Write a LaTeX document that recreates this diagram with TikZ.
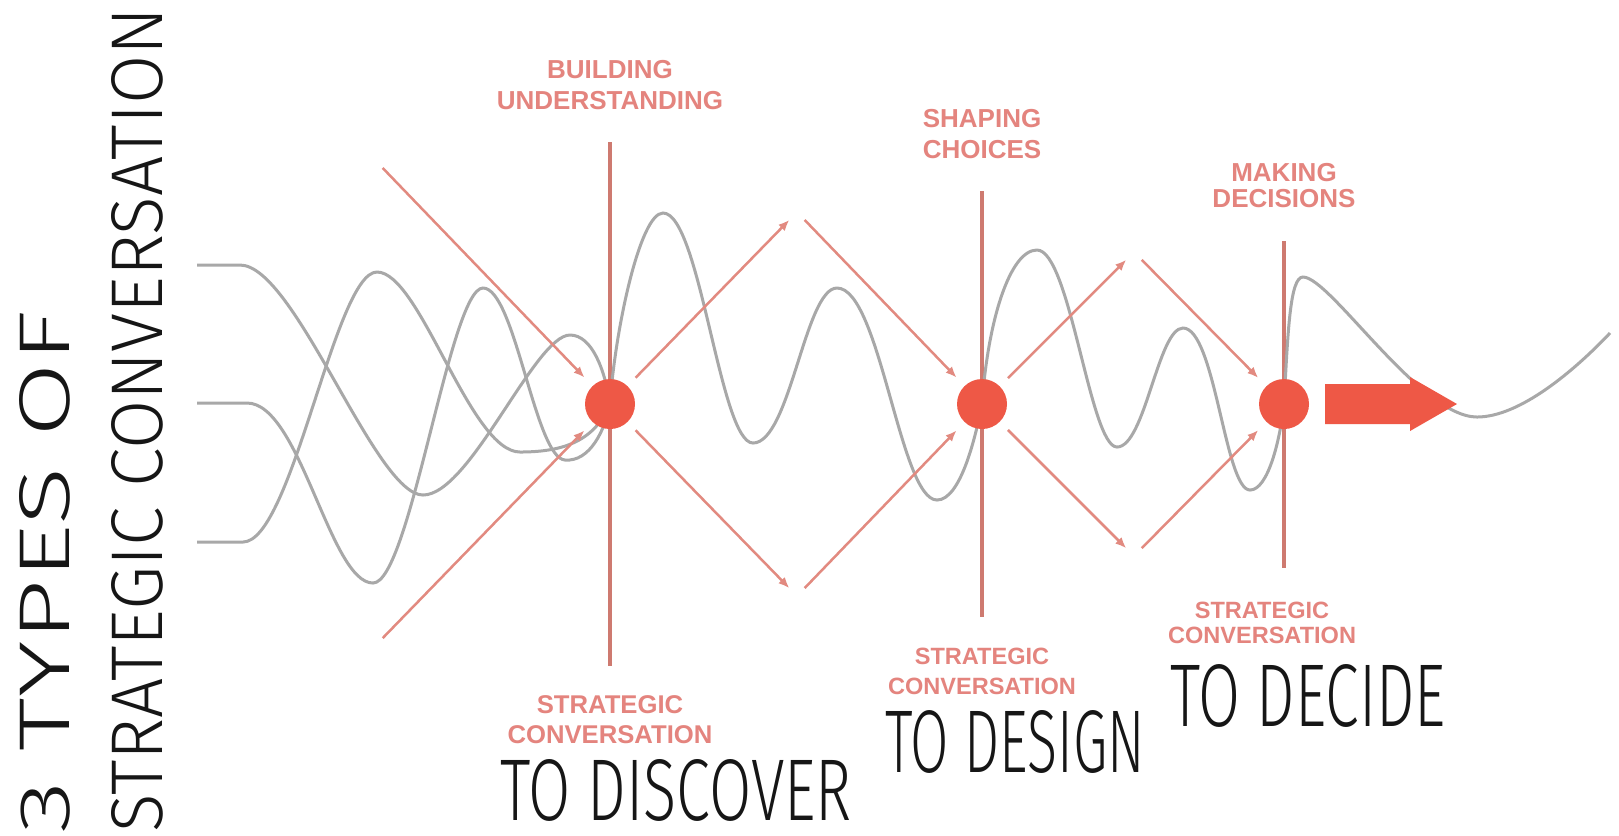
\documentclass[tikz,border=0pt]{standalone}
\usepackage{fontspec}
\usetikzlibrary{arrows.meta,positioning}
\newfontfamily\tagfont{Liberation Sans}
\IfFontExistsTF{Fira Sans Light}
  {\newfontfamily\thinfont{Fira Sans Light}}
  {\newfontfamily\thinfont{Fira Sans}}
\definecolor{wavegrey}{RGB}{168,168,168}
\definecolor{dotred}{RGB}{238,88,70}
\definecolor{axisred}{RGB}{206,122,112}
\definecolor{flowred}{RGB}{226,138,128}
\definecolor{tagred}{RGB}{228,132,126}
\definecolor{ink}{RGB}{22,22,22}

\begin{document}
\begin{tikzpicture}[x=0.1mm,y=-0.1mm,
wave/.style={draw=wavegrey,line width=0.3mm},
axis/.style={draw=axisred,line width=0.45mm},
flow/.style={draw=flowred,line width=0.25mm,-{Latex[length=1.1mm,width=0.9mm]},
	shorten >=1.1mm,shorten <=1.1mm},
dot/.style={circle,fill=dotred,minimum size=5mm,inner sep=0pt},
tag/.style={text=tagred,font=\tagfont\bfseries\fontsize{7.4}{8.8}\selectfont,
	align=center,inner sep=0pt},
big/.style={text=ink,inner sep=0pt}]
\fill[white] (0,0) rectangle (1619,835);
\useasboundingbox (0,0) rectangle (1619,835);

%ends of the three vertical lines
\coordinate (t1) at (610,142); \coordinate (b1) at (610,666);
\coordinate (t2) at (982,191); \coordinate (b2) at (982,617);
\coordinate (t3) at (1284,241); \coordinate (b3) at (1284,568);
%turning points of the red zigzag
\coordinate (in1) at (375,160); \coordinate (in2) at (375,646);
\coordinate (top1) at (797,212); \coordinate (bot1) at (797,596);
\coordinate (top2) at (1134,252); \coordinate (bot2) at (1134,556);

\foreach \i in {1,2,3}
	\draw[axis] (t\i) -- (b\i);

%the three tangled lines coming in
\draw[wave] (197,265) -- (240,265) .. controls (295,265) and (375,495) .. (423,495)
	.. controls (470,495) and (535,335) .. (570,335)
	.. controls (592,335) and (605,370) .. (610,404);
\draw[wave] (197,542) -- (243,542) .. controls (292,542) and (335,272) .. (377,272)
	.. controls (420,272) and (470,452) .. (520,452)
	.. controls (565,452) and (595,440) .. (610,404);
\draw[wave] (197,403) -- (247,403) .. controls (300,403) and (330,583) .. (373,583)
	.. controls (410,583) and (450,288) .. (483,288)
	.. controls (515,288) and (535,458) .. (565,460)
	.. controls (590,462) and (605,430) .. (610,404);
%one line from dot to dot
\draw[wave] (610,404) .. controls (615,330) and (640,213) .. (663,213)
	.. controls (700,213) and (720,443) .. (753,443)
	.. controls (790,443) and (805,288) .. (837,288)
	.. controls (880,288) and (900,500) .. (937,500)
	.. controls (960,500) and (975,440) .. (982,404)
	.. controls (988,320) and (1010,250) .. (1037,250)
	.. controls (1070,250) and (1090,447) .. (1117,447)
	.. controls (1145,447) and (1158,328) .. (1183,328)
	.. controls (1215,328) and (1225,490) .. (1250,490)
	.. controls (1268,490) and (1280,440) .. (1284,404)
	.. controls (1288,330) and (1290,277) .. (1303,277)
	.. controls (1330,277) and (1420,417) .. (1477,417)
	.. controls (1520,417) and (1575,370) .. (1610,333);

\node[dot] (c1) at (610,404) {};
\node[dot] (c2) at (982,404) {};
\node[dot] (c3) at (1284,404) {};

%zigzag arrows
\draw[flow] (in1) -- (c1);
\draw[flow] (in2) -- (c1);
\draw[flow] (c1) -- (top1);
\draw[flow] (c1) -- (bot1);
\draw[flow] (top1) -- (c2);
\draw[flow] (bot1) -- (c2);
\draw[flow] (c2) -- (top2);
\draw[flow] (c2) -- (bot2);
\draw[flow] (top2) -- (c3);
\draw[flow] (bot2) -- (c3);

%fat arrow after the last dot
\fill[dotred] (1325,384) -- (1410,384) -- (1410,377) -- (1457,404)
	-- (1410,431) -- (1410,424) -- (1325,424) -- cycle;

%labels over and under the lines
\node[tag,above=3.2mm of t1] (build) {BUILDING\\UNDERSTANDING};
\node[tag,above=3.2mm of t2] (shape) {SHAPING\\CHOICES};
\node[tag,above=3.3mm of t3,font=\tagfont\bfseries\fontsize{7.4}{7.4}\selectfont] (make) {MAKING\\DECISIONS};
\node[tag,below=2.9mm of b1,font=\tagfont\bfseries\fontsize{7.3}{8.5}\selectfont] (conv1) {STRATEGIC\\CONVERSATION};
\node[tag,below=3mm of b2,font=\tagfont\bfseries\fontsize{6.7}{8.5}\selectfont] (conv2) {STRATEGIC\\CONVERSATION};
\node[tag,below=3.3mm of b3,xshift=-2.2mm,font=\tagfont\bfseries\fontsize{6.7}{7.1}\selectfont] (conv3) {STRATEGIC\\CONVERSATION};

\node[big] (discover) at (676,790) {\resizebox{35.2mm}{6.1mm}{\thinfont TO DISCOVER}};
\node[big] (design) at (1015,742) {\resizebox{26mm}{6.2mm}{\thinfont TO DESIGN}};
\node[big] (decide) at (1308,696) {\resizebox{27.6mm}{6.2mm}{\thinfont TO DECIDE}};
\node[big,rotate=90] (types) at (45,572) {\resizebox{52.3mm}{5mm}{\thinfont 3 TYPES OF}};
\node[big,rotate=90] (strat) at (137,420) {\resizebox{82.5mm}{5.1mm}{\thinfont STRATEGIC CONVERSATION}};
\end{tikzpicture}
\end{document}
